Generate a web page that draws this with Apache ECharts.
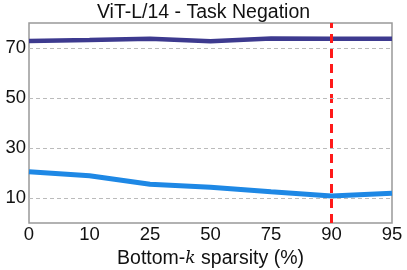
<!DOCTYPE html>
<html><head><meta charset="utf-8">
<script src="https://cdn.jsdelivr.net/npm/echarts@6/dist/echarts.min.js"></script>
<style>html,body{margin:0;padding:0;background:#fff}#c{width:407px;height:270px}</style>
</head><body><div id="c"></div>
<script>
var categories = ['0','10','25','50','75','90','95'];
var upperSeries = [72.8, 73.2, 73.7, 72.7, 73.8, 73.7, 73.7];
var lowerSeries = [20.5, 18.9, 15.5, 14.3, 12.5, 10.8, 11.9];
var yTicks = [10, 30, 50, 70];
var markerCategory = '90';

var chart = echarts.init(document.getElementById('c'), null, {renderer:'canvas'});
var font = 'Liberation Sans, Arial, sans-serif';
chart.setOption({
  animation:false,
  title:{text:'ViT-L/14 - Task Negation', left:'center', top:-2,
    textStyle:{fontFamily:font, fontSize:19.5, fontWeight:'normal', color:'#111'}},
  grid:{left:29, right:15, top:23, bottom:47, show:true, borderColor:'#999', borderWidth:1.5,
    outerBoundsMode:'none', containLabel:false},
  xAxis:{type:'category', data:categories, boundaryGap:false,
    axisLine:{show:false}, axisTick:{show:false},
    axisLabel:{fontFamily:font, fontSize:18.5, color:'#111', margin:2},
    name:'{a|Bottom-}{k|k}{a| sparsity (%)}', nameLocation:'middle', nameGap:21,
    nameTextStyle:{rich:{a:{fontFamily:font, fontSize:19.5, color:'#111'}, k:{fontFamily:'DejaVu Serif, serif', fontStyle:'italic', fontSize:17, color:'#111'}}}
  },
  yAxis:{type:'value', min:0, max:80, interval:10,
    axisLine:{show:false}, axisTick:{show:false},
    axisLabel:{fontFamily:font, fontSize:18.5, color:'#111', margin:3,
      formatter:function(v){return yTicks.indexOf(v)>=0 ? String(v) : '';}},
    splitLine:{show:false}
  },
  series:[
    {type:'line', data:upperSeries, symbol:'none', lineStyle:{color:'#3d3a8f', width:4.5}, z:3},
    {type:'line', data:lowerSeries, symbol:'none', lineStyle:{color:'#1e88e5', width:5}, z:3,
      markLine:{silent:true, symbol:'none', label:{show:false},
        data:[{xAxis:markerCategory, lineStyle:{color:'#ff1a1a', width:3, type:[9,6]}}]}},
    {type:'line', data:[], z:1,
      markLine:{silent:true, symbol:'none', label:{show:false},
        lineStyle:{color:'#bbb', width:1, type:[4,3]},
        data:yTicks.map(function(t){return {yAxis:t};})}}
  ]
});
</script></body></html>
